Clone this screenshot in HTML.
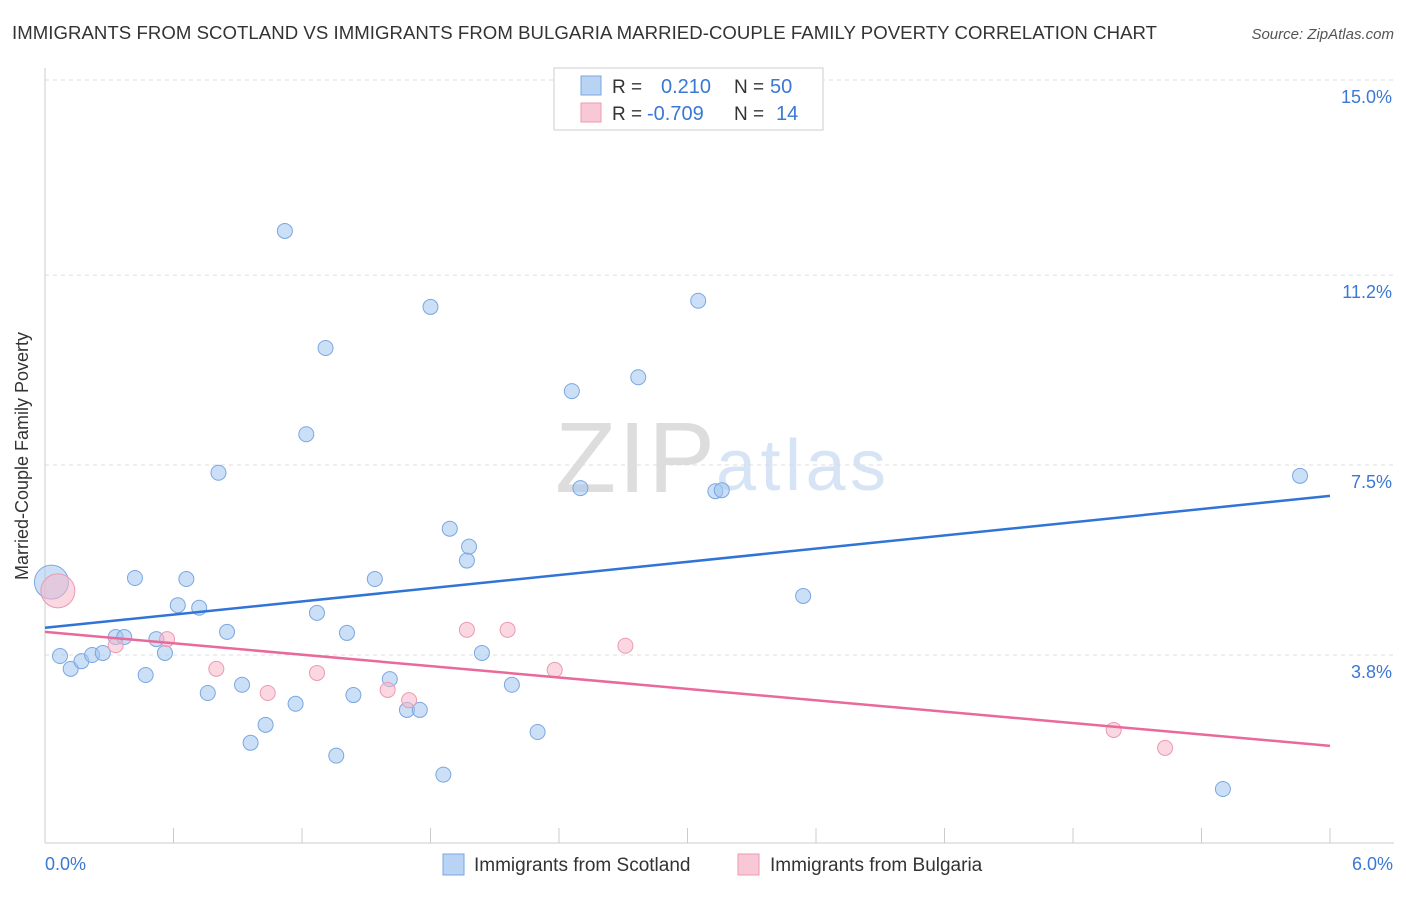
<!DOCTYPE html>
<html><head><meta charset="utf-8"><style>
body{margin:0;background:#fff;font-family:"Liberation Sans",sans-serif;}
svg text{font-family:"Liberation Sans",sans-serif;}
</style></head><body>
<svg id="c" width="1406" height="892">
<text x="12" y="39" font-size="18.6" fill="#333" textLength="1145">IMMIGRANTS FROM SCOTLAND VS IMMIGRANTS FROM BULGARIA MARRIED-COUPLE FAMILY POVERTY CORRELATION CHART</text>
<text x="1394" y="39" font-size="15" fill="#555" font-style="italic" text-anchor="end">Source: ZipAtlas.com</text>
<text x="28" y="456" font-size="18" fill="#333" text-anchor="middle" transform="rotate(-90 28 456)">Married-Couple Family Poverty</text>
<text x="555" y="492" font-size="100" fill="#ddd" font-family="Liberation Serif" textLength="160">ZIP</text>
<text x="716" y="490" font-size="72" fill="#d6e4f5" textLength="170">atlas</text>
<g id="grid"></g><g id="pts"></g><g id="lines"></g>
<g>
<rect x="554" y="68" width="269" height="62" fill="#fff" stroke="#ccc"/>
<rect x="581" y="76" width="20" height="19" fill="#b9d3f5" stroke="#7aa7e0"/>
<rect x="581" y="103" width="20" height="19" fill="#f9c8d6" stroke="#eb9ab2"/>
<text x="612" y="93" font-size="19" fill="#333">R =</text><text x="661" y="93" font-size="20" fill="#3a78d4">0.210</text>
<text x="734" y="93" font-size="19" fill="#333">N =</text><text x="770" y="93" font-size="20" fill="#3a78d4">50</text>
<text x="612" y="120" font-size="19" fill="#333">R =</text><text x="647" y="120" font-size="20" fill="#3a78d4">-0.709</text>
<text x="734" y="120" font-size="19" fill="#333">N =</text><text x="776" y="120" font-size="20" fill="#3a78d4">14</text>
</g>
<g>
<rect x="443" y="854" width="21" height="21" fill="#b9d3f5" stroke="#7aa7e0"/>
<text x="474" y="871" font-size="19" fill="#333">Immigrants from Scotland</text>
<rect x="738" y="854" width="21" height="21" fill="#f9c8d6" stroke="#eb9ab2"/>
<text x="770" y="871" font-size="19" fill="#333">Immigrants from Bulgaria</text>
</g>
</svg>
<script>
const yTicks=[3.8,7.5,11.2,15.0];
const xTickLabels=["0.0%","6.0%"];
const blueX=[0.03,0.07,0.12,0.17,0.22,0.27,0.33,0.37,0.42,0.47,0.52,0.56,0.62,0.66,0.72,0.76,0.81,0.85,0.92,0.96,1.03,1.12,1.17,1.22,1.27,1.31,1.36,1.41,1.44,1.54,1.61,1.69,1.75,1.80,1.86,1.89,1.97,1.98,2.04,2.18,2.30,2.46,2.50,2.77,3.05,3.13,3.16,3.54,5.50,5.86];
const blueY=[5.22,3.78,3.53,3.68,3.80,3.84,4.15,4.15,5.30,3.41,4.11,3.84,4.77,5.28,4.72,3.06,7.35,4.25,3.22,2.09,2.44,12.06,2.85,8.10,4.62,9.78,1.84,4.23,3.02,5.28,3.33,2.73,2.73,10.58,1.47,6.26,5.64,5.91,3.84,3.22,2.30,8.94,7.05,9.21,10.70,6.99,7.01,4.95,1.19,7.29];
const pinkX=[0.06,0.33,0.57,0.80,1.04,1.27,1.60,1.70,1.97,2.16,2.38,2.71,4.99,5.23];
const pinkY=[5.05,3.99,4.11,3.53,3.06,3.45,3.12,2.92,4.29,4.29,3.51,3.98,2.34,1.99];
const blueTrend=[4.33,6.90];
const pinkTrend=[4.25,2.03];
const NS='http://www.w3.org/2000/svg';
const X=v=>45+v/6*1285;
const Y=v=>80+(15-v)/11.2*575;
function mk(t,a,p){const e=document.createElementNS(NS,t);for(const k in a)e.setAttribute(k,a[k]);document.getElementById(p).appendChild(e);return e;}
const svg='grid';
yTicks.forEach(t=>{
 const l=mk('line',{x1:45,x2:1394,y1:Y(t),y2:Y(t),stroke:'#ddd','stroke-dasharray':'4,4'},svg);
 
 
 const tx=mk('text',{x:1392,y:Y(t)+23,'font-size':18,fill:'#3a78d4','text-anchor':'end'},svg);
 tx.textContent=t.toFixed(1)+'%';
 
 
});
mk('line',{x1:45,x2:45,y1:68,y2:843,stroke:'#ccc'},svg);
mk('line',{x1:45,x2:1394,y1:843,y2:843,stroke:'#ccc'},svg);
for(let i=0;i<=10;i++){mk('line',{x1:X(i*0.6),x2:X(i*0.6),y1:828,y2:843,stroke:'#ccc'},svg);}
xTickLabels.forEach((s,i)=>{
 const tx=mk('text',{x:i?1393:45,y:870,'font-size':18,fill:'#3a78d4','text-anchor':i?'end':'start'},svg);
 tx.textContent=s;
 
 
});
blueX.forEach((x,i)=>{
 const c=mk('circle',{cx:X(x),cy:Y(blueY[i]),r:i==0?17:7.5,fill:'rgba(160,196,240,0.55)',stroke:'#7aa7e0','stroke-width':1},'pts');
 
 
});
pinkX.forEach((x,i)=>{
 const c=mk('circle',{cx:X(x),cy:Y(pinkY[i]),r:i==0?17:7.5,fill:'rgba(247,182,200,0.55)',stroke:'#eb9ab2','stroke-width':1},'pts');
 
 
});
const b=mk('line',{x1:X(0),x2:X(6),y1:Y(blueTrend[0]),y2:Y(blueTrend[1]),stroke:'#2f74d6','stroke-width':2.5},'lines');


const p=mk('line',{x1:X(0),x2:X(6),y1:Y(pinkTrend[0]),y2:Y(pinkTrend[1]),stroke:'#e8699a','stroke-width':2.5},'lines');


</script>
</body></html>
